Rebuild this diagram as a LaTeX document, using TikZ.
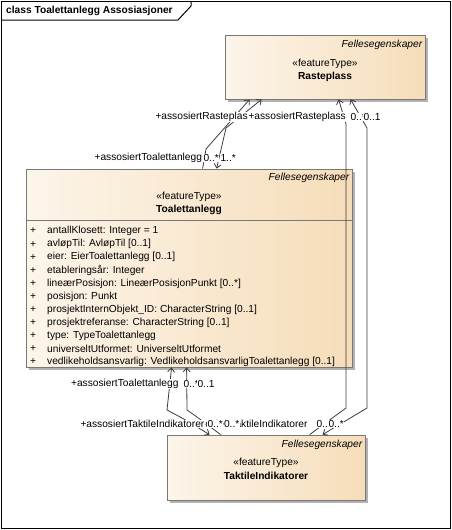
\documentclass[tikz,border=0pt]{standalone}
\usepackage{fontspec}
\setmainfont{Liberation Sans}
\usetikzlibrary{arrows.meta,positioning}
\definecolor{boxleft}{RGB}{252,245,234}
\definecolor{boxright}{RGB}{246,221,185}
\definecolor{boxline}{RGB}{120,120,120}
\definecolor{boxshadow}{RGB}{178,178,178}
\definecolor{conline}{RGB}{60,60,60}

\begin{document}
\begin{tikzpicture}[x=1pt,y=-1pt,line join=miter,
  every node/.style={font=\fontsize{10.2}{12}\selectfont},
  featbox/.style={draw=boxline,line width=0.8pt,left color=boxleft,right color=boxright,inner sep=0pt},
  pkgname/.style={font=\fontsize{10.2}{12}\selectfont\itshape,anchor=east,inner sep=0pt},
  stereo/.style={inner sep=0pt},
  clsname/.style={font=\fontsize{10.2}{12}\selectfont\bfseries,inner sep=0pt},
  attr/.style={anchor=west,inner sep=0pt},
  role/.style={fill=white,inner xsep=0.3pt,inner ysep=0.5pt},
  assoc/.style={draw=conline,line width=0.8pt},
  nav/.style={-{Straight Barb[length=4pt,width=7pt]}},
  vanav/.style={{Straight Barb[length=4pt,width=7pt]}-},
  bothnav/.style={{Straight Barb[length=4pt,width=7pt]}-{Straight Barb[length=4pt,width=7pt]}}]

\useasboundingbox (0,0) rectangle (452,530);
\draw[line width=1pt] (1,1) rectangle (450,528);
\draw[line width=1pt] (1,20) -- (178,20) -- (191,6) -- (191,1);
\node[clsname,anchor=west] (title) at (6,11) {class Toalettanlegg Assosiasjoner};

\fill[boxshadow] (228,38) rectangle (428,102);
\fill[boxshadow] (29,172) rectangle (355,370);
\fill[boxshadow] (170,438) rectangle (368,503);

\node[featbox,minimum width=200,minimum height=64] (raste) at (325,67) {};
\node[pkgname] (rastePkg) at ([xshift=-3pt,yshift=-10pt]raste.north east) {Fellesegenskaper};
\node[stereo] (rasteStereo) at ([yshift=-29pt]raste.north) {«featureType»};
\node[clsname] (rasteName) at ([yshift=-42pt]raste.north) {Rasteplass};

\node[featbox,minimum width=326,minimum height=198] (toalett) at (189,268) {};
\draw[boxline,line width=0.8pt] (toalett.west |- 0,220) coordinate (sepL) -- (toalett.east |- sepL);
\node[pkgname] (toalettPkg) at ([xshift=-3pt,yshift=-9pt]toalett.north east) {Fellesegenskaper};
\node[stereo] (toalettStereo) at ([yshift=-28pt]toalett.north) {«featureType»};
\node[clsname] (toalettName) at ([yshift=-41pt]toalett.north) {Toalettanlegg};
\foreach \txt [count=\i from 0] in {antallKlosett: Integer = 1,avløpTil: AvløpTil [0..1],
  eier: EierToalettanlegg [0..1],etableringsår: Integer,lineærPosisjon: LineærPosisjonPunkt [0..*],
  posisjon: Punkt,prosjektInternObjekt\_ID: CharacterString [0..1],prosjektreferanse: CharacterString [0..1],
  type: TypeToalettanlegg,universeltUtformet: UniverseltUtformet,
  vedlikeholdsansvarlig: VedlikeholdsansvarligToalettanlegg [0..1]}{
  \node[inner sep=0pt] (plus\i) at (33,231+13.1*\i) {+};
  \node[attr] (attr\i) at (47,231+13.1*\i) {\txt};
}

\node[featbox,minimum width=198,minimum height=65] (taktil) at (266,467.5) {};
\node[pkgname] (taktilPkg) at ([xshift=-3pt,yshift=-10pt]taktil.north east) {Fellesegenskaper};
\node[stereo] (taktilStereo) at ([yshift=-28pt]taktil.north) {«featureType»};
\node[clsname] (taktilName) at ([yshift=-41pt]taktil.north) {TaktileIndikatorer};

\draw[assoc,nav] ([xshift=177pt]toalett.north west) -- (206,149) -- ([xshift=25pt]raste.south west);
\draw[assoc,bothnav] ([xshift=191pt]toalett.north west) -- (226,128) -- ([xshift=37pt]raste.south west);
\draw[assoc,vanav] ([xshift=114pt]raste.south west) -- (346,124) -- (346,408) -- ([xshift=143pt]taktil.north west);
\draw[assoc,bothnav] ([xshift=126pt]raste.south west) -- (367,128) -- (367,408) -- ([xshift=156pt]taktil.north west);
\draw[assoc,bothnav] ([xshift=146pt]toalett.south west) -- (167,410) -- (182,418) -- ([xshift=43pt]taktil.north west);
\draw[assoc,vanav] ([xshift=161pt]toalett.south west) -- (187,410) -- (197,417) -- ([xshift=54pt]taktil.north west);

\node[role,anchor=west] (roleRaste1) at (155,117) {+assosiertRasteplass};
\node[role,anchor=west] (roleRaste2) at (248,117) {+assosiertRasteplass};
\node[role,anchor=west] (multRaste1) at (350,117) {0..*};
\node[role,anchor=west] (multRaste2) at (363,117) {0..1};

\node[role,anchor=east] (roleToalett1) at (202.5,158) {+assosiertToalettanlegg};
\node[role,anchor=west] (multToalett2) at (220,158) {1..*};
\node[role,anchor=west] (multToalett1) at (203,158) {0..*};

\node[role,anchor=east] (roleToalett3) at (179,384) {+assosiertToalettanlegg};
\node[role,anchor=west] (multToalett3) at (183,384) {0..*};
\node[role,anchor=west] (multToalett4) at (197,384) {0..1};

\node[role,anchor=east] (roleTaktil2) at (308,424) {+assosiertTaktileIndikatorer};
\node[role,anchor=west] (roleTaktil1) at (80,424) {+assosiertTaktileIndikatorer};
\node[role,anchor=west] (multTaktil1) at (207,424) {0..*};
\node[role,anchor=west] (multTaktil2) at (223.5,424) {0..*};
\node[role,anchor=west] (multTaktil3) at (316,424) {0..*};
\node[role,anchor=west] (multTaktil4) at (328,424) {0..*};
\end{tikzpicture}
\end{document}
